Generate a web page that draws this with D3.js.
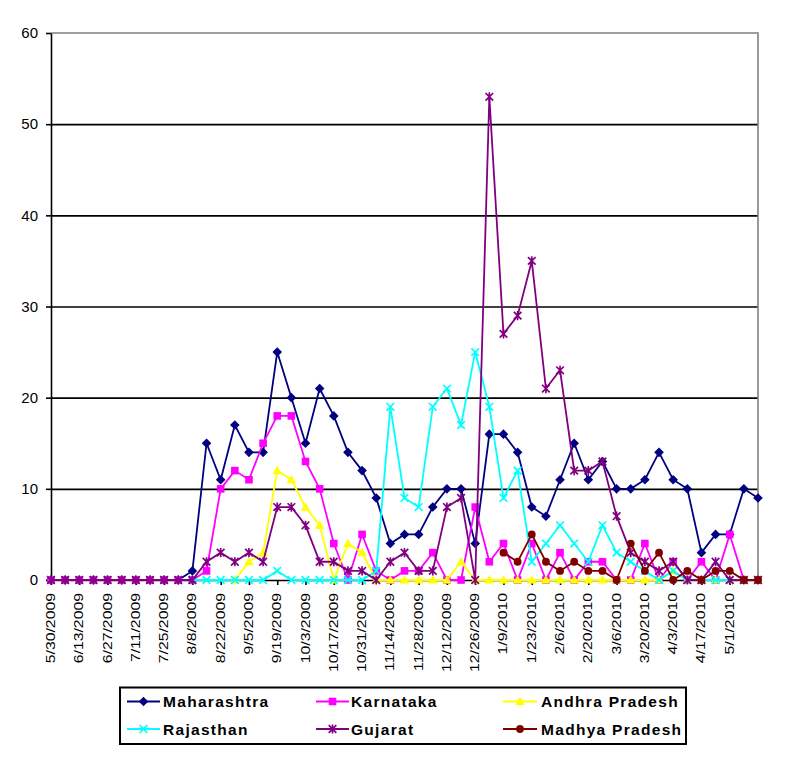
<!DOCTYPE html>
<html lang="en">
<head>
  <meta charset="UTF-8">
  <title>Weekly cases by state</title>
  <script src="https://cdn.jsdelivr.net/npm/d3@7"></script>
  <style>
    body { margin: 0; background: #fff; }
    svg { display: block; font-family: "Liberation Sans", Arial, sans-serif; }
  </style>
</head>
<body>
<svg id="chart" width="791" height="757"></svg>
<script>
  // weekly dates (category axis)
  const dates = [
    "5/30/2009","6/6/2009","6/13/2009","6/20/2009","6/27/2009","7/4/2009","7/11/2009","7/18/2009",
    "7/25/2009","8/1/2009","8/8/2009","8/15/2009","8/22/2009","8/29/2009","9/5/2009","9/12/2009",
    "9/19/2009","9/26/2009","10/3/2009","10/10/2009","10/17/2009","10/24/2009","10/31/2009","11/7/2009",
    "11/14/2009","11/21/2009","11/28/2009","12/5/2009","12/12/2009","12/19/2009","12/26/2009","1/2/2010",
    "1/9/2010","1/16/2010","1/23/2010","1/30/2010","2/6/2010","2/13/2010","2/20/2010","2/27/2010",
    "3/6/2010","3/13/2010","3/20/2010","3/27/2010","4/3/2010","4/10/2010","4/17/2010","4/24/2010",
    "5/1/2010","5/8/2010","5/15/2010"
  ];
  // every second week is labelled, the last one is left out
  const dateLabels = dates.filter((d, i) => i % 2 === 0 && i < 50);

  const yTicks = [0, 10, 20, 30, 40, 50, 60];

  const maharashtra = [0,0,0,0,0,0,0,0,0,0, 1,15,11,17,14,14,25,20,15,21,
    18,14,12,9,4,5,5,8,10,10, 4,16,16,14,8,7,11,15,11,13, 10,10,11,14,11,10,3,5,5,10, 9];
  const karnataka = [0,0,0,0,0,0,0,0,0,0, 0,1,10,12,11,15,18,18,13,10,
    4,0,5,1,0,1,1,3,0,0, 8,2,4,0,4,0,3,0,2,2, 0,0,4,0,2,0,2,0,5,0, 0];
  const andhra = [null,null,null,null,null,null,null,null,null,null, null,null,null,0,2,3,12,11,8,6,
    0,4,3,0,0,0,0,0,0,2, 0,0,0,0,0,0,0,0,0,0, 0,0,0,0,1,0,0,0,0,0, 0];
  const rajasthan = [null,null,null,null,null,null,null,null,null,null, 0,0,0,0,0,0,1,0,0,0,
    0,0,0,1,19,9,8,19,21,17, 25,19,9,12,2,4,6,4,2,6, 3,2,1,0,1,0,0,0,0,0, 0];
  const gujarat = [0,0,0,0,0,0,0,0,0,0, 0,2,3,2,3,2,8,8,6,2,
    2,1,1,0,2,3,1,1,8,9, 0,53,27,29,35,21,23,12,12,13, 7,3,2,1,2,0,0,2,0,0, 0];
  const madhya = [null,null,null,null,null,null,null,null,null,null, null,null,null,null,null,null,null,null,null,null,
    null,null,null,null,null,null,null,null,null,null, null,null,3,2,5,2,1,2,1,1, 0,4,1,3,0,1,0,1,1,0, 0];

  const seriesNames = ["Maharashtra", "Karnataka", "Andhra Pradesh", "Rajasthan", "Gujarat", "Madhya Pradesh"];
  const seriesValues = [maharashtra, karnataka, andhra, rajasthan, gujarat, madhya];
  const seriesColors = ["#000080", "#ff00ff", "#ffff00", "#00ffff", "#800080", "#800000"];
  const seriesMarkers = ["diamond", "square", "triangle", "x", "star", "circle"];

  const svg = d3.select("#chart");
  const plotL = 51, plotR = 758, plotT = 33, plotB = 580;

  svg.append("rect").attr("width", 791).attr("height", 757).attr("fill", "#fff");

  const x = d3.scalePoint().domain(dates).range([plotL, plotR]);
  const y = d3.scaleLinear().domain([0, 60]).range([plotB, plotT]);

  // grid lines
  svg.append("g")
    .attr("transform", `translate(${plotL},0)`)
    .call(d3.axisLeft(y).tickValues(yTicks.filter(v => v > 0 && v < 60)).tickSize(-(plotR - plotL)).tickFormat(""))
    .call(g => g.select(".domain").remove())
    .selectAll("line").attr("stroke", "#000").attr("stroke-width", 1.6);

  // plot border (top/right grey)
  svg.append("path")
    .attr("d", `M${plotL},${plotT}H${plotR}V${plotB}`)
    .attr("fill", "none").attr("stroke", "#808080").attr("stroke-width", 1.6);

  // y axis
  const yAxis = svg.append("g")
    .attr("transform", `translate(${plotL},0)`)
    .call(d3.axisLeft(y).tickValues(yTicks).tickSize(5).tickSizeOuter(0).tickPadding(8));
  yAxis.selectAll("path, line").attr("stroke", "#000").attr("stroke-width", 1.6);
  yAxis.selectAll("text").attr("font-size", 15).attr("fill", "#000")
    .attr("font-family", "Liberation Sans, Arial, sans-serif");

  // x axis
  const xAxis = svg.append("g")
    .attr("transform", `translate(0,${plotB})`)
    .call(d3.axisBottom(x).tickValues(dateLabels).tickSize(5).tickSizeOuter(0));
  xAxis.selectAll("path, line").attr("stroke", "#000").attr("stroke-width", 1.6);
  xAxis.selectAll("text")
    .attr("x", null).attr("y", null).attr("dy", null)
    .attr("text-anchor", "end")
    .attr("transform", "translate(3.5,13) rotate(-90) scale(1.02,0.84)")
    .attr("font-size", 15.5).attr("fill", "#000")
    .attr("font-family", "Liberation Sans, Arial, sans-serif");

  function marker(sel, type, color) {
    if (type === "diamond") {
      sel.append("path").attr("d", "M0,-4.8L4.8,0L0,4.8L-4.8,0Z").attr("fill", color);
    } else if (type === "square") {
      sel.append("rect").attr("x", -3.8).attr("y", -3.8).attr("width", 7.6).attr("height", 7.6).attr("fill", color);
    } else if (type === "triangle") {
      sel.append("path").attr("d", "M0,-4.8L4.8,3.6L-4.8,3.6Z").attr("fill", color);
    } else if (type === "x") {
      sel.append("path").attr("d", "M-3.8,-3.8L3.8,3.8M-3.8,3.8L3.8,-3.8")
        .attr("stroke", color).attr("stroke-width", 1.7).attr("fill", "none");
    } else if (type === "star") {
      sel.append("path").attr("d", "M-3.8,-3.8L3.8,3.8M-3.8,3.8L3.8,-3.8M0,-4.6V4.6")
        .attr("stroke", color).attr("stroke-width", 1.7).attr("fill", "none");
    } else {
      sel.append("circle").attr("r", 3.9).attr("fill", color);
    }
  }

  const line = d3.line()
    .defined(d => d != null)
    .x((d, i) => x(dates[i]))
    .y(d => y(d));

  seriesValues.forEach((vals, s) => {
    const g = svg.append("g");
    g.append("path")
      .attr("d", line(vals))
      .attr("fill", "none")
      .attr("stroke", seriesColors[s])
      .attr("stroke-width", 1.8);
    const pts = vals.map((v, i) => ({ v, i })).filter(p => p.v != null);
    g.selectAll("g.pt").data(pts).enter().append("g")
      .attr("class", "pt")
      .attr("transform", p => `translate(${x(dates[p.i])},${y(p.v)})`)
      .each(function () { marker(d3.select(this), seriesMarkers[s], seriesColors[s]); });
  });

  // legend
  const legend = svg.append("g");
  legend.append("rect")
    .attr("x", 120).attr("y", 687.5).attr("width", 566).attr("height", 56.5)
    .attr("fill", "#fff").attr("stroke", "#000").attr("stroke-width", 2);

  const colX = [[127, 160, 163], [316, 349, 351], [503, 537, 541]];
  const rowY = [701.5, 729];
  seriesNames.forEach((name, s) => {
    const c = colX[s % 3], r = rowY[Math.floor(s / 3)];
    const item = legend.append("g");
    item.append("line")
      .attr("x1", c[0]).attr("x2", c[1]).attr("y1", r).attr("y2", r)
      .attr("stroke", seriesColors[s]).attr("stroke-width", 1.8);
    marker(item.append("g").attr("transform", `translate(${(c[0] + c[1]) / 2},${r})`), seriesMarkers[s], seriesColors[s]);
    item.append("text")
      .attr("x", c[2]).attr("y", r + 5.5)
      .attr("font-size", 15.5).attr("font-weight", "bold")
      .attr("letter-spacing", 1.3)
      .text(name);
  });
</script>
</body>
</html>
